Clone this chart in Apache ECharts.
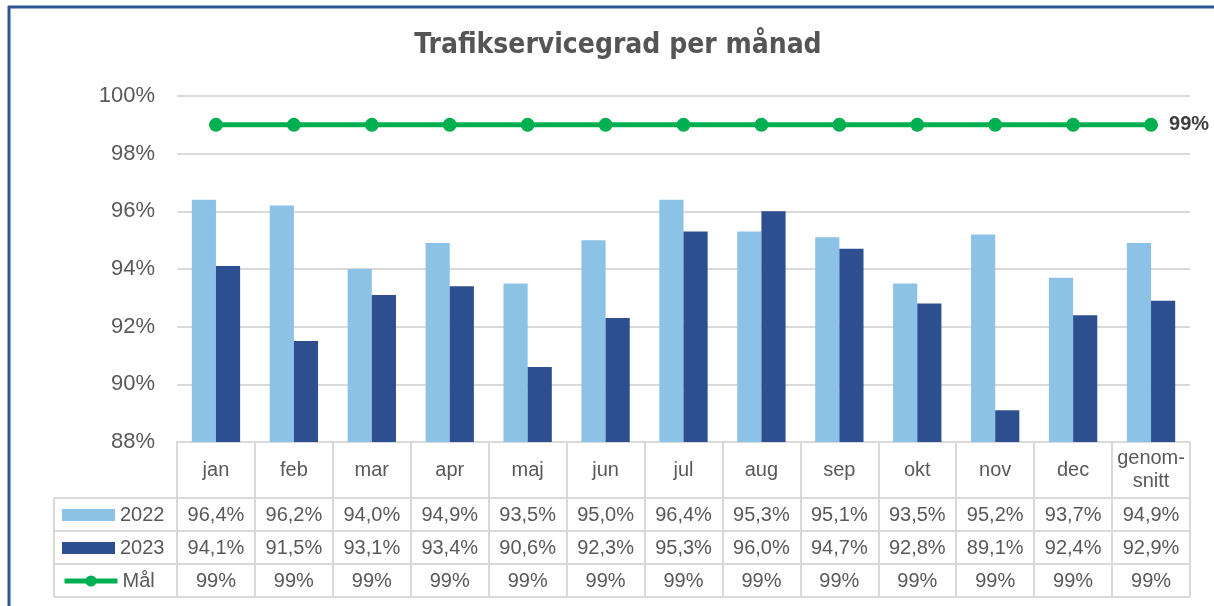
<!DOCTYPE html>
<html>
<head>
<meta charset="utf-8">
<script src="https://cdn.jsdelivr.net/npm/echarts@6/dist/echarts.min.js"></script>
<style>
html,body{margin:0;padding:0;background:#fff;}
#main{width:1214px;height:606px;}
</style>
</head>
<body>
<div id="main"></div>
<script>
// data
var months = ['jan', 'feb', 'mar', 'apr', 'maj', 'jun', 'jul', 'aug', 'sep', 'okt', 'nov', 'dec', 'genom-\nsnitt']
var values2022 = [96.4, 96.2, 94.0, 94.9, 93.5, 95.0, 96.4, 95.3, 95.1, 93.5, 95.2, 93.7, 94.9]
var values2023 = [94.1, 91.5, 93.1, 93.4, 90.6, 92.3, 95.3, 96.0, 94.7, 92.8, 89.1, 92.4, 92.9]
var goal = [99, 99, 99, 99, 99, 99, 99, 99, 99, 99, 99, 99, 99]
var yTicks = [88, 90, 92, 94, 96, 98, 100]

var font = "'Liberation Sans', 'DejaVu Sans', sans-serif"
var txt = '#595959'
var border = '#d9d9d9'

// layout
var gLeft = 177, gRight = 1190, gTop = 96, gBottom = 442
var tableLeft = 54
var rowY = [498, 531, 564, 597] //表格横线
var rowMid = [515, 548, 581]

function pct1(v) {
	return v.toFixed(1).replace('.', ',') + '%'
}
function pct0(v) {
	return v + '%'
}

var goalData = goal.map(function(v, i) {
	if (i == goal.length - 1) {
		return {
			value: v,
			label: {
				show: true,
				position: 'right',
				distance: 11,
				formatter: '{c}%',
				color: '#404040',
				fontWeight: 'bold',
				fontSize: 20,
				fontFamily: font
			}
		}
	}
	return v
})

// extra x axes used as table rows
function rowAxis(list, fmt, margin) {
	return {
		type: 'category',
		gridIndex: 0,
		position: 'bottom',
		data: list.map(fmt),
		axisLine: { show: false },
		axisTick: { show: false },
		splitLine: { show: false },
		axisLabel: {
			interval: 0,
			margin: margin,
			verticalAlign: 'middle',
			color: txt,
			fontSize: 20,
			fontFamily: font
		}
	}
}

function legendRow(name, mid, icon) {
	var l = {
		data: [{ name: name }],
		left: 62,
		top: mid - 11,
		padding: 0,
		itemWidth: 53,
		itemHeight: 12,
		itemGap: 0,
		selectedMode: false,
		textStyle: { color: txt, fontSize: 20, lineHeight: 22, fontFamily: font, padding: [0, 0, 0, 0] }
	}
	if (icon) {
		l.data[0].icon = icon
	} else {
		l.lineStyle = { width: 5 }
		l.itemHeight = 14
		l.top = mid - 11
	}
	return l
}

var lines = []
rowY.forEach(function(y) {
	lines.push({
		type: 'line',
		shape: { x1: tableLeft, y1: y, x2: gRight, y2: y },
		style: { stroke: border, lineWidth: 2 }
	})
})
lines.push({
	type: 'line',
	shape: { x1: tableLeft, y1: rowY[0], x2: tableLeft, y2: rowY[3] },
	style: { stroke: border, lineWidth: 2 }
})
// blå ram
lines.push({
	type: 'line',
	shape: { x1: 9, y1: 6, x2: 9, y2: 606 },
	style: { stroke: '#2f5597', lineWidth: 3 }
})
lines.push({
	type: 'line',
	shape: { x1: 8, y1: 7, x2: 1214, y2: 7 },
	style: { stroke: '#2f5597', lineWidth: 3 }
})

var option = {
	animation: false,
	backgroundColor: '#fff',
	title: {
		text: 'Trafikservicegrad per månad',
		left: 613,
		textAlign: 'center',
		top: 27,
		textStyle: {
			color: '#555555',
			fontSize: 28,
			fontWeight: 'bold',
			fontFamily: "'Liberation Sans Narrow', 'DejaVu Sans Condensed', 'Liberation Sans', sans-serif"
		}
	},
	legend: [
		legendRow('2022', rowMid[0], 'rect'),
		legendRow('2023', rowMid[1], 'rect'),
		legendRow('Mål', rowMid[2])
	],
	grid: {
		left: gLeft,
		right: 1214 - gRight,
		top: gTop,
		bottom: 606 - gBottom
	},
	xAxis: [{
			type: 'category',
			data: months,
			position: 'bottom',
			axisLine: { show: true, lineStyle: { color: border, width: 2 } },
			axisTick: {
				show: true,
				interval: 0,
				length: rowY[3] - gBottom,
				lineStyle: { color: border, width: 2 }
			},
			axisLabel: {
				interval: 0,
				margin: 28,
				verticalAlign: 'middle',
				lineHeight: 23,
				color: txt,
				fontSize: 20,
				fontFamily: font
			}
		},
		rowAxis(values2022, pct1, rowMid[0] - gBottom),
		rowAxis(values2023, pct1, rowMid[1] - gBottom),
		rowAxis(goal, pct0, rowMid[2] - gBottom)
	],
	yAxis: {
		type: 'value',
		min: yTicks[0],
		max: yTicks[yTicks.length - 1],
		interval: 2,
		axisLine: { show: false },
		axisTick: { show: false },
		splitLine: { lineStyle: { color: border, width: 2 } },
		axisLabel: {
			margin: 22,
			color: txt,
			fontSize: 22,
			fontFamily: font,
			formatter: '{value}%'
		}
	},
	series: [{
			name: '2022',
			type: 'bar',
			data: values2022,
			barGap: '0%',
			barCategoryGap: '38%',
			itemStyle: { color: '#8cc2e6' }
		},
		{
			name: '2023',
			type: 'bar',
			data: values2023,
			itemStyle: { color: '#2e4f8f' }
		},
		{
			name: 'Mål',
			type: 'line',
			data: goalData,
			symbol: 'circle',
			symbolSize: 14,
			lineStyle: { color: '#00b050', width: 5 },
			itemStyle: { color: '#00b050' }
		}
	],
	graphic: lines
}

var myChart = echarts.init(document.getElementById('main'))
myChart.setOption(option)
</script>
</body>
</html>
